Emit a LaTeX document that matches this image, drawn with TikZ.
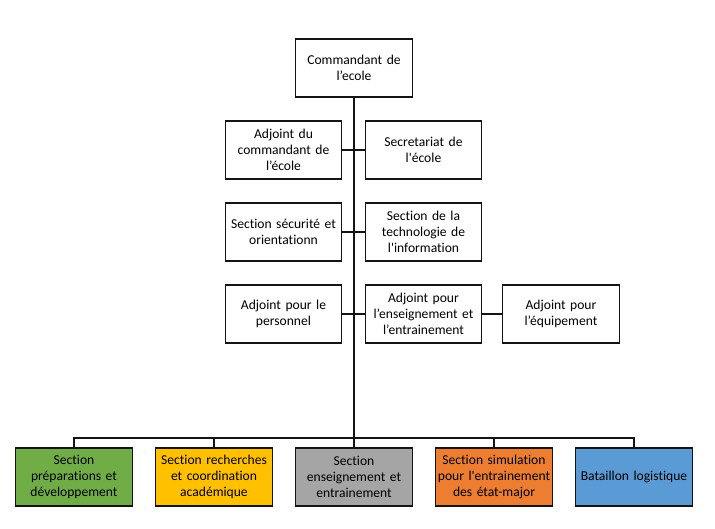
\documentclass[tikz,border=0pt]{standalone}
\usepackage{fontspec}
\newfontfamily\orgfont[Ligatures=NoCommon]{Carlito}
\definecolor{linegray}{RGB}{20, 20, 20}
\definecolor{prepgreen}{RGB}{112, 173, 71}
\definecolor{rechyellow}{RGB}{255, 192, 0}
\definecolor{enseigngray}{RGB}{165, 165, 165}
\definecolor{simorange}{RGB}{237, 125, 49}
\definecolor{logblue}{RGB}{91, 155, 213}

\begin{document}
\begin{tikzpicture}[x=0.567pt, y=-0.567pt,
    orgbox/.style={draw=linegray, line width=0.6pt, minimum width=65.8pt, minimum height=32.9pt,
        text width=64pt, align=center, inner sep=1pt, font=\orgfont\fontsize{7.7}{9.2}\selectfont},
    link/.style={draw=linegray, line width=0.6pt},
    trunk/.style={draw=linegray, line width=1.1pt}]
                \useasboundingbox (0,0) rectangle (715,528);
                % direction
                \node[orgbox] (cmd) at (354,68) {Commandant de\\l’ecole};
                % adjoints et sections
                \node[orgbox] (adjcmd) at (283.5,150) {Adjoint du\\commandant de\\l’école};
                \node[orgbox] (secr) at (423.5,150) {Secretariat de\\l'école};
                \node[orgbox] (secu) at (283.5,232) {Section sécurité et\\orientationn};
                \node[orgbox] (techinfo) at (423.5,232) {Section de la\\technologie de\\l'information};
                \node[orgbox] (adjpers) at (283.5,314) {Adjoint pour le\\personnel};
                \node[orgbox] (adjens) at (423.5,314) {Adjoint pour\\l’enseignement et\\l’entrainement};
                \node[orgbox] (adjequip) at (561,314) {Adjoint pour\\l’équipement};
                % sections du bas
                \node[orgbox, fill=prepgreen] (prep) at (74,477) {Section\\préparations et\\développement};
                \node[orgbox, fill=rechyellow] (rech) at (214,477) {Section recherches\\et coordination\\académique};
                \node[orgbox, fill=enseigngray] (enseign) at (354,477) {Section\\enseignement et\\entrainement};
                \node[orgbox, fill=simorange] (simul) at (494,477) {Section simulation\\pour l'entrainement\\des état-major};
                \node[orgbox, fill=logblue] (logist) at (634,477) {Bataillon logistique};
                \coordinate (bus) at (354,438);
                \draw[trunk] (cmd.south) -- (bus);
                \draw[link] (adjcmd.east) -- (secr.west);
                \draw[link] (secu.east) -- (techinfo.west);
                \draw[link] (adjpers.east) -- (adjens.west);
                \draw[link] (adjens.east) -- (adjequip.west);
                \foreach \sec in {prep, rech, enseign, simul, logist}
                    \draw[link] (bus) -| (\sec.north);
            \end{tikzpicture}
\end{document}
